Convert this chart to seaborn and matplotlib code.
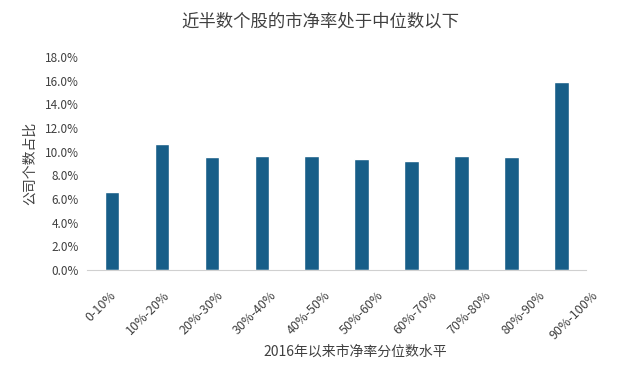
import matplotlib
matplotlib.use("Agg")
import matplotlib.pyplot as plt
import matplotlib.transforms as mtransforms
import pandas as pd
import seaborn as sns
from matplotlib.ticker import FuncFormatter, MultipleLocator


CATEGORIES = ["0-10%", "10%-20%", "20%-30%", "30%-40%", "40%-50%",
              "50%-60%", "60%-70%", "70%-80%", "80%-90%", "90%-100%"]
SHARES = [6.6, 10.6, 9.5, 9.65, 9.65, 9.4, 9.2, 9.65, 9.55, 15.85]

TITLE = "近半数个股的市净率处于中位数以下"
X_LABEL = "2016年以来市净率分位数水平"
Y_LABEL = "公司个数占比"

BAR_COLOR = "#175e88"
TEXT_COLOR = "#404040"


def main() -> None:
    sns.set_style("white")
    plt.rcParams["font.family"] = ["Noto Sans CJK SC", "DejaVu Sans"]

    df = pd.DataFrame({"range": CATEGORIES, "share": SHARES})

    fig = plt.figure(figsize=(6.4, 3.84), dpi=100)
    ax = fig.add_axes([0.136, 0.297, 0.78, 0.555])

    sns.barplot(data=df, x="range", y="share", color=BAR_COLOR,
                width=0.29, saturation=1, ax=ax)

    ax.set_ylim(0, 18)
    ax.yaxis.set_major_locator(MultipleLocator(2))
    ax.yaxis.set_major_formatter(FuncFormatter(lambda v, _: f"{v:.1f}%"))
    ax.tick_params(axis="y", labelsize=8.5, colors=TEXT_COLOR, length=0, pad=6)
    ax.tick_params(axis="x", length=0)
    ax.set_xticklabels([])

    # category labels drift a little to the right, as in the source chart
    for i, label in enumerate(CATEGORIES):
        shift = mtransforms.ScaledTranslation((-3 + 3.7 * i) / 100, -19 / 100,
                                              fig.dpi_scale_trans)
        ax.text(i, 0, label, transform=ax.get_xaxis_transform() + shift,
                rotation=45, ha="right", va="top", rotation_mode="anchor",
                fontsize=9, color=TEXT_COLOR)

    for side in ("top", "right", "left"):
        ax.spines[side].set_visible(False)
    ax.spines["bottom"].set_color("#d0d0d0")

    ax.set_xlabel("")
    ax.set_ylabel(Y_LABEL, fontsize=10, color=TEXT_COLOR)
    ax.yaxis.set_label_coords(-0.1, 0.5)
    fig.text(0.555, 0.083, X_LABEL, ha="center", va="center", fontsize=10, color=TEXT_COLOR)
    fig.text(0.5, 0.943, TITLE, ha="center", va="center", fontsize=12.5, color=TEXT_COLOR)

    fig.savefig("out.png", dpi=100, facecolor="white")
    plt.close(fig)


if __name__ == "__main__":
    main()
